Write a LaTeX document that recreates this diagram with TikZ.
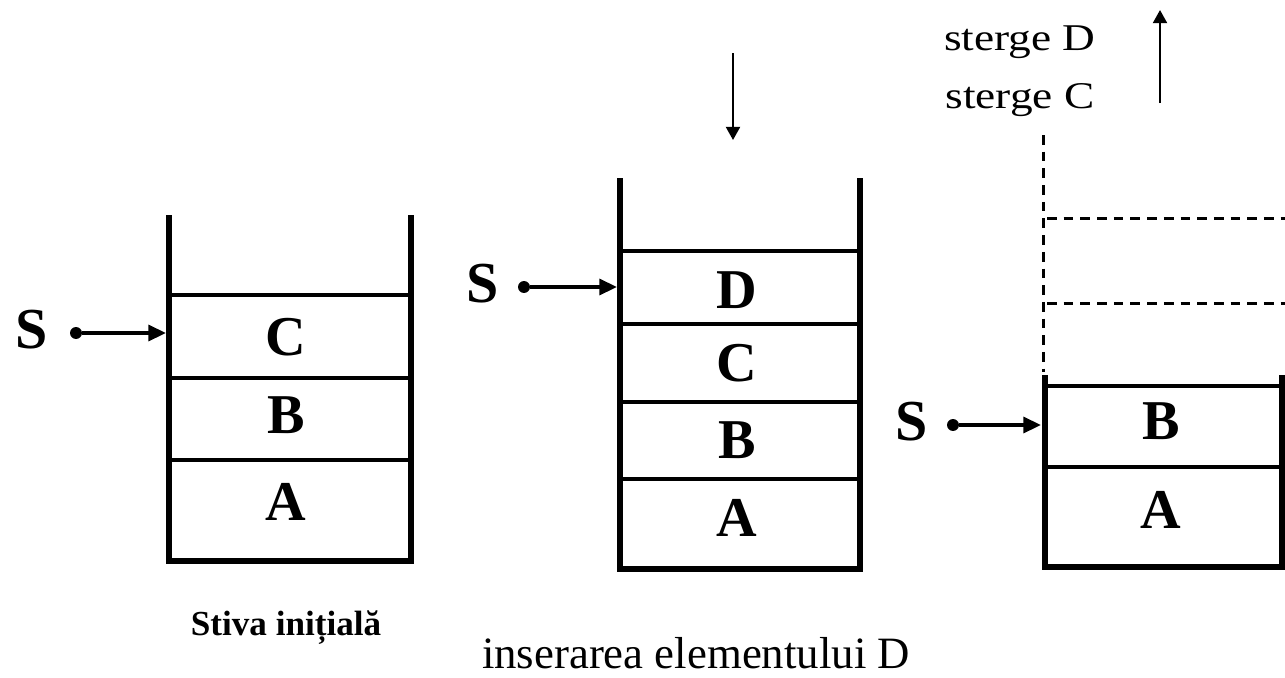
\documentclass[tikz,border=0pt]{standalone}
\usepackage{fontspec}
\setmainfont{Liberation Serif}
\usetikzlibrary{arrows.meta}

\begin{document}
\begin{tikzpicture}[x=0.02cm,y=-0.02cm,
  wall/.style={line width=3.4pt, line join=miter},
  sep/.style={line width=2.2pt},
  ghost/.style={line width=1.7pt, dash pattern=on 5.5pt off 4pt},
  cell/.style={font=\fontsize{32}{33}\selectfont\bfseries, inner sep=0pt},
  ptr/.style={font=\fontsize{33}{34}\selectfont\bfseries, inner sep=0pt},
  dotnode/.style={circle, fill, inner sep=0pt, minimum size=6.8pt},
  link/.style={line width=2pt, -{Triangle[length=10pt,width=9pt]}},
  flow/.style={line width=1.2pt, -{Triangle[length=7.5pt,width=8pt]}},
  caption/.style={anchor=base, inner sep=0pt}
]
\useasboundingbox (0,0) rectangle (1285,677);

% ---------- initial stack ----------
\draw[wall] (169,215) -- (169,561) -- (411,561) -- (411,215);
\draw[sep] (169,295) -- (411,295);
\draw[sep] (169,378) -- (411,378);
\draw[sep] (169,460) -- (411,460);
\node[cell] (a1) at (286,337) {C};
\node[cell] (b1) at (286,415) {B};
\node[cell] (c1) at (286,502) {A};
\node[ptr] (s1) at (32,330) {S};
\node[dotnode] (d1) at (76,333) {};
\coordinate (w1) at (166,333);
\draw[link] (d1) -- (w1);
\node[caption, font=\fontsize{20}{22}\selectfont\bfseries] (cap1) at (286,635) {Stiva inițială};

% ---------- after pushing D ----------
\draw[wall] (620,178) -- (620,569) -- (860,569) -- (860,178);
\draw[sep] (620,251) -- (860,251);
\draw[sep] (620,324) -- (860,324);
\draw[sep] (620,402) -- (860,402);
\draw[sep] (620,479) -- (860,479);
\node[cell] (a2) at (737,290) {D};
\node[cell] (b2) at (737,363) {C};
\node[cell] (c2) at (737,440) {B};
\node[cell] (e2) at (737,518) {A};
\node[ptr] (s2) at (483,284) {S};
\node[dotnode] (d2) at (524,287) {};
\coordinate (w2) at (617,287);
\draw[link] (d2) -- (w2);
\coordinate (in0) at (733,53);
\coordinate (in1) at (733,140);
\draw[flow] (in0) -- (in1);
\node[caption, font=\fontsize{25.5}{27}\selectfont] (cap2) at (696,668) {inserarea elementului D};

% ---------- after popping D and C ----------
\draw[ghost] (1043,135) -- (1043,372);
\draw[ghost] (1047,218) -- (1285,218);
\draw[ghost] (1047,303) -- (1285,303);
\draw[wall] (1045,375) -- (1045,567) -- (1282,567) -- (1282,375);
\draw[sep] (1045,386) -- (1282,386);
\draw[sep] (1045,467) -- (1282,467);
\node[cell] (a3) at (1161,421) {B};
\node[cell] (b3) at (1161,510) {A};
\node[ptr] (s3) at (912,422) {S};
\node[dotnode] (d3) at (953,425) {};
\coordinate (w3) at (1041,425);
\draw[link] (d3) -- (w3);
\coordinate (out0) at (1160,103);
\coordinate (out1) at (1160,10);
\draw[flow] (out0) -- (out1);
\node[caption, font=\fontsize{21.5}{23}\selectfont] (del1) at (1020,50) {\scalebox{1.2}[1]{sterge D}};
\node[caption, font=\fontsize{21.5}{23}\selectfont] (del2) at (1020,108) {\scalebox{1.2}[1]{sterge C}};
\end{tikzpicture}
\end{document}
